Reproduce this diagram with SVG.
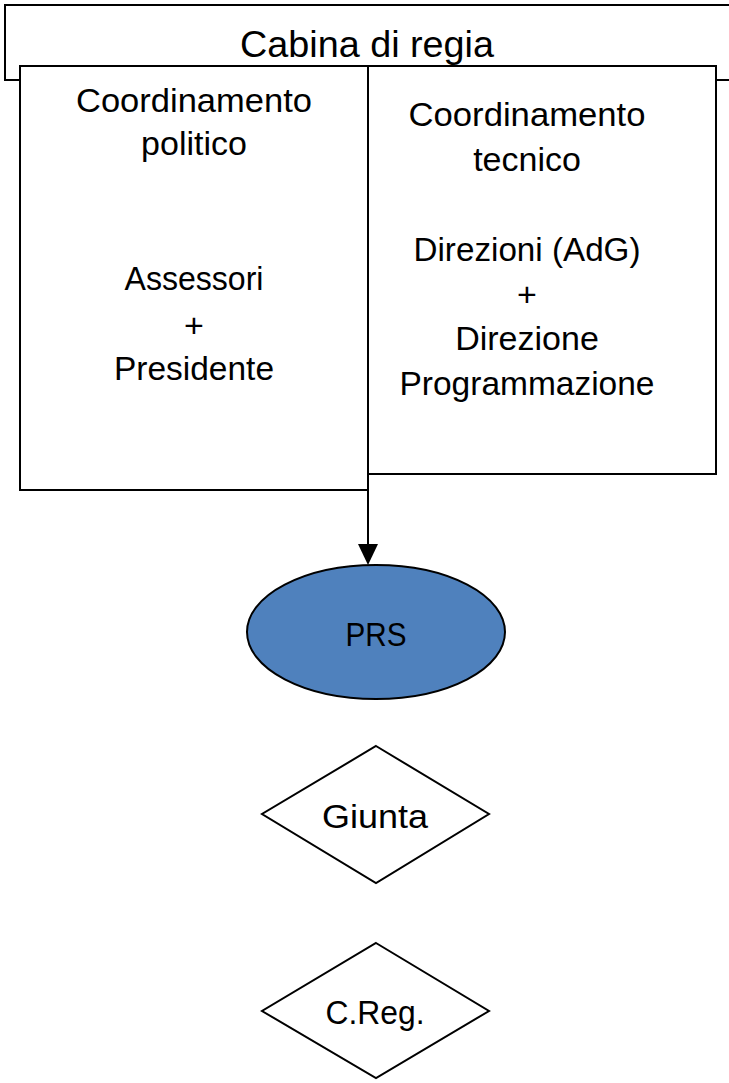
<svg xmlns="http://www.w3.org/2000/svg" width="729" height="1083" viewBox="0 0 729 1083">
<defs>
<style>
.box{fill:#fff;stroke:#000;stroke-width:2}
.t{font-family:"Liberation Sans",Arial,sans-serif;font-size:34px;fill:#000;text-anchor:middle}
.big{font-size:36px}
.conn{stroke:#000;stroke-width:2;fill:none}
</style>
</defs>
<rect width="729" height="1083" fill="#fff"/>
<g id="cabina">
<rect class="box" x="5" y="5" width="740" height="75"/>
<text class="t big" x="367" y="57" textLength="254" lengthAdjust="spacingAndGlyphs">Cabina di regia</text>
</g>
<g id="coord-politico">
<rect class="box" x="20" y="66" width="348" height="424"/>
<text class="t" x="194" y="112" textLength="236" lengthAdjust="spacingAndGlyphs">Coordinamento</text>
<text class="t" x="194" y="155">politico</text>
<text class="t" x="194" y="290" textLength="139" lengthAdjust="spacingAndGlyphs">Assessori</text>
<text class="t" x="194" y="337">+</text>
<text class="t" x="194" y="380" textLength="160" lengthAdjust="spacingAndGlyphs">Presidente</text>
</g>
<g id="coord-tecnico">
<rect class="box" x="368" y="66" width="348" height="408"/>
<text class="t" x="527" y="126" textLength="237" lengthAdjust="spacingAndGlyphs">Coordinamento</text>
<text class="t" x="527" y="171">tecnico</text>
<text class="t" x="527" y="261" textLength="227" lengthAdjust="spacingAndGlyphs">Direzioni (AdG)</text>
<text class="t" x="527" y="306">+</text>
<text class="t" x="527" y="350">Direzione</text>
<text class="t" x="527" y="395" textLength="255" lengthAdjust="spacingAndGlyphs">Programmazione</text>
</g>
<g id="connectors">
<line class="conn" x1="368" y1="474" x2="368" y2="546"/>
<polygon points="358,544 378,544 368,565" fill="#000"/>
</g>
<g id="prs">
<ellipse cx="376" cy="632" rx="129" ry="67" fill="#4f81bd" stroke="#000" stroke-width="2"/>
<text class="t" x="376" y="646" textLength="61" lengthAdjust="spacingAndGlyphs">PRS</text>
</g>
<g id="giunta">
<polygon class="box" points="376,746 489,814 376,883 262,814"/>
<text class="t" x="375" y="828" textLength="106" lengthAdjust="spacingAndGlyphs">Giunta</text>
</g>
<g id="creg">
<polygon class="box" points="376,943 489,1011 376,1078 262,1011"/>
<text class="t" x="375" y="1024" textLength="99" lengthAdjust="spacingAndGlyphs">C.Reg.</text>
</g>
</svg>
